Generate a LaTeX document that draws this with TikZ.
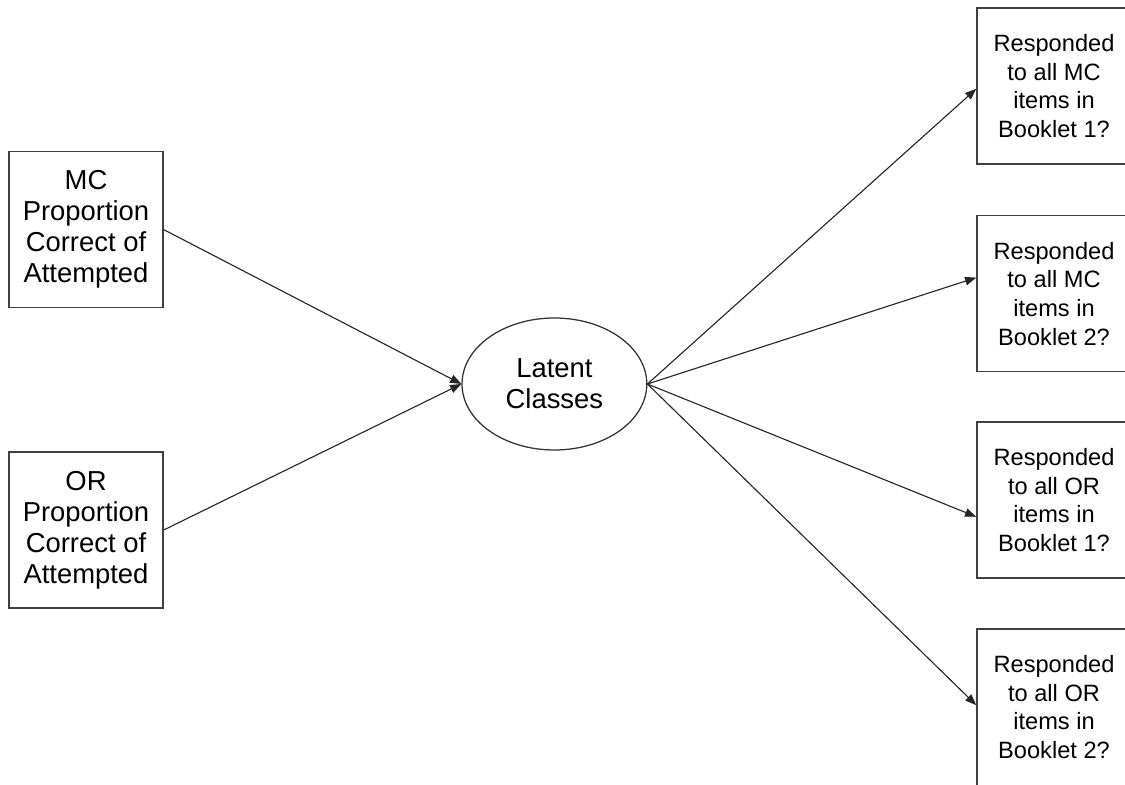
\documentclass[tikz,border=0pt]{standalone}
\usepackage{fontspec}
\setmainfont{Liberation Sans}
\usetikzlibrary{arrows.meta,shapes.geometric}
\tikzset{
    box/.style={draw=black!75, line width=1pt, minimum width=3.85cm,
                minimum height=3.9cm, inner sep=0pt, align=center,
                font=\fontsize{19.5}{22}\selectfont},
    outcome/.style={box, font=\fontsize{16.8}{20.4}\selectfont},
    latent/.style={ellipse, draw=black!80, line width=0.9pt,
                   minimum width=4.62cm, minimum height=3.3cm, inner sep=0pt,
                   align=center, font=\fontsize{19.5}{22}\selectfont},
    flow/.style={-{Triangle[length=8pt,width=6pt]}, line width=0.8pt,
                 draw=black!85},
}

\begin{document}
\begin{tikzpicture}

    \useasboundingbox (0,0) rectangle (28.125,19.6);

    \node[box] (mc) at (2.15,13.86) {MC\\Proportion\\Correct of\\Attempted};
    \node[box] (or) at (2.15,6.35) {OR\\Proportion\\Correct of\\Attempted};
    \node[latent] (classes) at (13.86,10.0) {Latent\\Classes};

    \node[outcome] (mcone) at (26.35,17.45) {Responded\\to all MC\\items in\\Booklet 1?};
    \node[outcome] (mctwo) at (26.35,12.26) {Responded\\to all MC\\items in\\Booklet 2?};
    \node[outcome] (orone) at (26.35,7.1) {Responded\\to all OR\\items in\\Booklet 1?};
    \node[outcome] (ortwo) at (26.35,1.92) {Responded\\to all OR\\items in\\Booklet 2?};

    \draw[flow] (mc.east) -- (classes.west);
    \draw[flow] (or.east) -- (classes.west);
    \draw[flow] (classes.east) -- ([yshift=-0.07cm]mcone.west);
    \draw[flow] (classes.east) -- ([yshift=0.4cm]mctwo.west);
    \draw[flow] (classes.east) -- ([yshift=-0.42cm]orone.west);
    \draw[flow] (classes.east) -- ([yshift=0.05cm]ortwo.west);

\end{tikzpicture}
\end{document}
